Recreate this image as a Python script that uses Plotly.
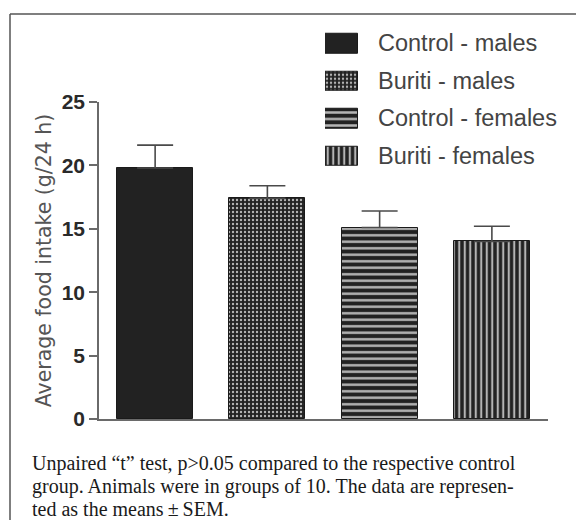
import plotly.graph_objects as go

# ---- data ----
groups = ["Control - males", "Buriti - males", "Control - females", "Buriti - females"]
means = [19.8, 17.4, 15.1, 14.0]
sem = [1.8, 1.0, 1.3, 1.2]
y_ticks = [0, 5, 10, 15, 20, 25]
y_title = "Average food intake (g/24 h)"
caption_lines = [
    "Unpaired “t” test, p&gt;0.05 compared to the respective control",
    "group. Animals were in groups of 10. The data are represen-",
    "ted as the means\u2009±\u2009SEM.",
]

# ---- styles ----
dark = "#222222"
light = "#b4b4b4"
patterns = [
    dict(shape=""),
    dict(shape=".", bgcolor=dark, fgcolor=light, size=4, solidity=0.28, fillmode="replace"),
    dict(shape="-", bgcolor=dark, fgcolor=light, size=6.5, solidity=0.38, fillmode="replace"),
    dict(shape="|", bgcolor=dark, fgcolor=light, size=5.5, solidity=0.38, fillmode="replace"),
]

OFF = 8  # page body margin offset (both sides, so the page does not scroll)
W, H = 584 - 2 * OFF, 528 - 2 * OFF
# reference pixel positions (in window coordinates)
ax_left, ax_right, ax_top, ax_bottom = 99, 548, 102, 419
mt = 20 - OFF
ml = ax_left - OFF
mr = (584 - OFF) - ax_right
mb = (528 - OFF) - ax_bottom
plot_w = W - ml - mr
plot_h = H - mt - mb


def px_x(x):
    return (x - ax_left) / plot_w


def px_y(y):
    return (ax_bottom - y) / plot_h


fig = go.Figure()

for i, g in enumerate(groups):
    fig.add_trace(go.Bar(
        x=[i], y=[means[i]], width=0.675,
        marker=dict(color=dark, pattern=patterns[i], line=dict(color="#1a1a1a", width=1)),
        error_y=dict(type="data", symmetric=False, array=[sem[i]], arrayminus=[0],
                     color="#4a4a4a", thickness=1.6, width=18),
        showlegend=False, xaxis="x", yaxis="y",
    ))

# legend swatches on a hidden helper axis
for i, g in enumerate(groups):
    fig.add_trace(go.Bar(
        y=[i], x=[1], orientation="h", width=0.52,
        marker=dict(color=dark, pattern=patterns[i], line=dict(color="#1a1a1a", width=1)),
        showlegend=False, xaxis="x2", yaxis="y2", hoverinfo="skip",
    ))
    fig.add_annotation(
        x=px_x(376), xref="paper", y=i, yref="y2", text=g, showarrow=False,
        xanchor="left", yanchor="middle",
        font=dict(family="Liberation Sans, Arial, sans-serif", size=23.5, color="#444"),
    )

fig.update_layout(
    width=W, height=H,
    margin=dict(l=ml, r=mr, t=mt, b=mb, autoexpand=False),
    paper_bgcolor="white", plot_bgcolor="white",
    bargap=0,
    xaxis=dict(range=[-0.5, 3.5], showticklabels=False, ticks="", showgrid=False,
               zeroline=False, showline=True, linecolor="#6a6a6a", linewidth=1.6,
               domain=[0, 1], automargin=False),
    yaxis=dict(range=[0, 25], tickvals=y_ticks, ticks="outside", ticklen=8,
               tickwidth=1.6, tickcolor="#6a6a6a", showgrid=False, zeroline=False,
               showline=True, linecolor="#6a6a6a", linewidth=1.6,
               domain=[0, px_y(ax_top)], automargin=False,
               tickfont=dict(family="Liberation Sans, Arial, sans-serif", size=21,
                             color="#2a2a2a", weight="bold"),
               title=dict(text=y_title, standoff=4,
                          font=dict(family="DejaVu Sans, sans-serif",
                                    size=20.5, color="#555"))),
    xaxis2=dict(domain=[px_x(325), px_x(358)], range=[0, 1], visible=False,
                anchor="y2", fixedrange=True),
    yaxis2=dict(domain=[px_y(174.75), px_y(24.75)], range=[3.5, -0.5], visible=False,
                anchor="x2", fixedrange=True),
)

for k, line in enumerate(caption_lines):
    fig.add_annotation(
        x=px_x(30), xref="paper", y=px_y(463 + 23 * k), yref="paper", text=line,
        showarrow=False, xanchor="left", yanchor="middle", align="left",
        font=dict(family="Liberation Serif, Times New Roman, serif", size=20, color="#1a1a1a"),
    )

# frame: only the top and left edges fall inside the picture
frame = dict(color="#555", width=1.5)
fig.add_shape(type="line", xref="paper", yref="paper",
              x0=px_x(10), x1=px_x(590), y0=px_y(14), y1=px_y(14), line=frame)
fig.add_shape(type="line", xref="paper", yref="paper",
              x0=px_x(10), x1=px_x(10), y0=px_y(14), y1=px_y(540), line=frame)

fig.write_html("out.html")
